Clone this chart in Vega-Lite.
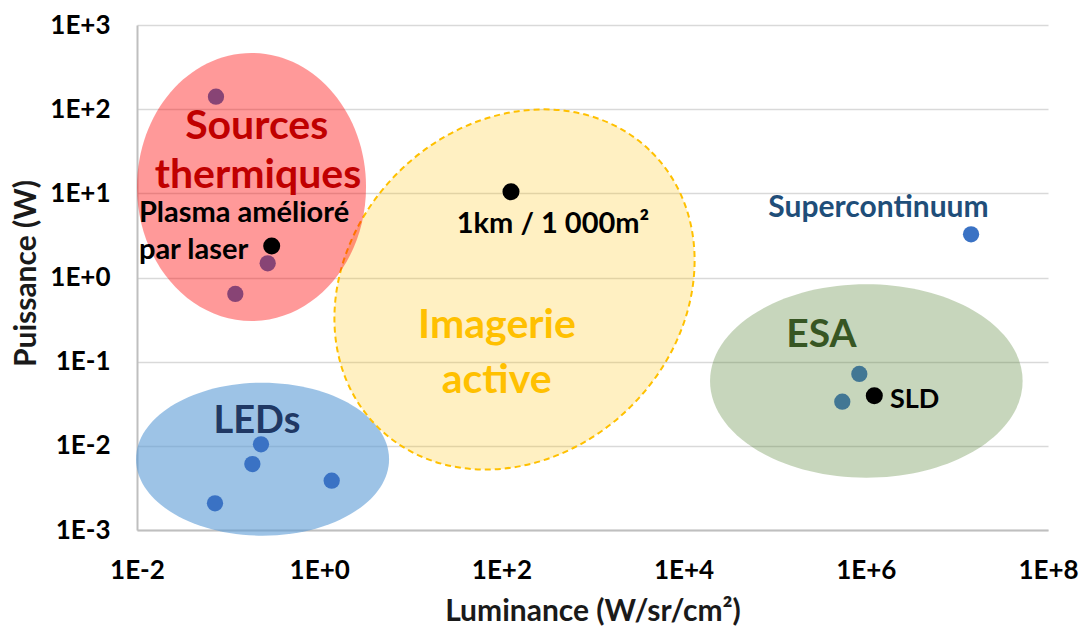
{
  "$schema": "https://vega.github.io/schema/vega-lite/v6.json",
  "width": 911,
  "height": 505,
  "autosize": "none",
  "padding": {"left": 137, "top": 25, "right": 35, "bottom": 103},
  "background": "white",
  "config": {
    "view": {"stroke": null},
    "font": "Lato"
  },
  "encoding": {
    "x": {
      "field": "x", "type": "quantitative",
      "scale": {"type": "log", "domain": [0.01, 100000000], "nice": false, "zero": false},
      "axis": {
        "values": [0.01, 1, 100, 10000, 1000000, 100000000],
        "labelExpr": "'1E' + (datum.value >= 1 ? '+' : '-') + format(abs(round(log(datum.value)/LN10)), 'd')",
        "grid": false, "ticks": false, "tickSize": 0,
        "labelPadding": 27, "labelFont": "Lato", "labelFontSize": 26, "labelFontWeight": "bold", "labelColor": "#000000",
        "labelFlush": false, "labelOverlap": false,
        "domainColor": "#BFBFBF", "domainWidth": 2,
        "title": "Luminance (W/sr/cm²)", "titleFont": "Lato", "titleFontSize": 30, "titleFontWeight": "bold", "titleColor": "#1a1a1a",
        "titleX": 455.5, "titleY": 90, "titleAlign": "center", "titleBaseline": "alphabetic", "titleAnchor": null
      }
    },
    "y": {
      "field": "y", "type": "quantitative",
      "scale": {"type": "log", "domain": [0.001, 1000], "nice": false, "zero": false},
      "axis": {
        "values": [0.001, 0.01, 0.1, 1, 10, 100, 1000],
        "labelExpr": "'1E' + (datum.value >= 1 ? '+' : '-') + format(abs(round(log(datum.value)/LN10)), 'd')",
        "grid": true, "gridColor": "#D9D9D9", "gridWidth": 1.5,
        "ticks": false, "tickSize": 0,
        "labelPadding": 27, "labelFont": "Lato", "labelFontSize": 26, "labelFontWeight": "bold", "labelColor": "#000000",
        "labelFlush": false, "labelOverlap": false,
        "domainColor": "#BFBFBF", "domainWidth": 2,
        "title": "Puissance (W)", "titleFont": "Lato", "titleFontSize": 30, "titleFontWeight": "bold", "titleColor": "#1a1a1a",
        "titleX": -102, "titleY": 248, "titleAngle": -90, "titleAlign": "center", "titleBaseline": "alphabetic", "titleAnchor": null
      }
    }
  },
  "layer": [
    {
      "data": {"values": [{"group": "LEDs", "x": 0.2389, "y": 0.00694}]},
      "mark": {"type": "point", "filled": true, "size": 64009, "fill": "#5B9BD5", "fillOpacity": 0.6, "strokeWidth": 0, "opacity": 1,
        "shape": "M 1 0 C 1 0.334 0.5523 0.6047 0 0.6047 C -0.5523 0.6047 -1 0.334 -1 0 C -1 -0.334 -0.5523 -0.6047 0 -0.6047 C 0.5523 -0.6047 1 -0.334 1 0 Z"}
    },
    {
      "data": {"values": [{"group": "Imagerie active", "x": 139.3, "y": 0.721}]},
      "mark": {"type": "point", "filled": false, "size": 150544, "fill": "#FFC000", "fillOpacity": 0.24, "stroke": "#FFC000", "strokeWidth": 2, "strokeDash": [6, 4], "strokeOpacity": 1, "opacity": 1, "angle": 315,
        "shape": "M 1 0 C 1 0.4697 0.5523 0.8505 0 0.8505 C -0.5523 0.8505 -1 0.4697 -1 0 C -1 -0.4697 -0.5523 -0.8505 0 -0.8505 C 0.5523 -0.8505 1 -0.4697 1 0 Z"}
    },
    {
      "data": {"values": [
        {"x": 0.0736, "y": 140.6},
        {"x": 0.272, "y": 1.475},
        {"x": 0.120, "y": 0.637},
        {"x": 0.2296, "y": 0.01042},
        {"x": 0.1846, "y": 0.00608},
        {"x": 0.0718, "y": 0.002075},
        {"x": 1.371, "y": 0.003855},
        {"x": 14300000, "y": 3.26},
        {"x": 849000, "y": 0.0714},
        {"x": 552000, "y": 0.0335}
      ]},
      "mark": {"type": "point", "shape": "circle", "filled": true, "size": 265, "color": "#3A72C4", "opacity": 1, "strokeWidth": 0}
    },
    {
      "data": {"values": [{"group": "Sources thermiques", "x": 0.1808, "y": 11.89}]},
      "mark": {"type": "point", "filled": true, "size": 52441, "fill": "#FF0000", "fillOpacity": 0.4, "strokeWidth": 0, "opacity": 1,
        "shape": "M 1 0 C 1 0.6463 0.5523 1.1703 0 1.1703 C -0.5523 1.1703 -1 0.6463 -1 0 C -1 -0.6463 -0.5523 -1.1703 0 -1.1703 C 0.5523 -1.1703 1 -0.6463 1 0 Z"}
    },
    {
      "data": {"values": [{"group": "ESA", "x": 1014000, "y": 0.0589}]},
      "mark": {"type": "point", "filled": true, "size": 97719, "fill": "#548235", "fillOpacity": 0.33, "strokeWidth": 0, "opacity": 1,
        "shape": "M 1 0 C 1 0.3417 0.5523 0.6187 0 0.6187 C -0.5523 0.6187 -1 0.3417 -1 0 C -1 -0.3417 -0.5523 -0.6187 0 -0.6187 C 0.5523 -0.6187 1 -0.3417 1 0 Z"}
    },
    {
      "data": {"values": [
        {"x": 127.4, "y": 10.46},
        {"x": 0.301, "y": 2.37},
        {"x": 1240000, "y": 0.0394}
      ]},
      "mark": {"type": "point", "shape": "circle", "filled": true, "size": 290, "color": "#000000", "opacity": 1, "strokeWidth": 0}
    },
    {
      "data": {"values": [
        {"label": "Sources", "x": 0.206, "y": 44.5},
        {"label": "thermiques", "x": 0.2128, "y": 11.57}
      ]},
      "mark": {"type": "text", "font": "Lato", "fontWeight": "bold", "fontSize": 41, "color": "#C00000", "align": "center", "baseline": "alphabetic"},
      "encoding": {"text": {"field": "label"}}
    },
    {
      "data": {"values": [
        {"label": "Plasma amélioré", "x": 0.0105, "y": 4.565},
        {"label": "par laser", "x": 0.0105, "y": 1.66}
      ]},
      "mark": {"type": "text", "font": "Lato", "fontWeight": "bold", "fontSize": 29, "color": "#000000", "align": "left", "baseline": "alphabetic"},
      "encoding": {"text": {"field": "label"}}
    },
    {
      "data": {"values": [{"label": "SLD", "x": 1845000, "y": 0.02838}]},
      "mark": {"type": "text", "font": "Lato", "fontWeight": "bold", "fontSize": 27, "color": "#000000", "align": "left", "baseline": "alphabetic"},
      "encoding": {"text": {"field": "label"}}
    },
    {
      "data": {"values": [{"label": "1km / 1 000m²", "x": 368.5, "y": 3.35}]},
      "mark": {"type": "text", "font": "Lato", "fontWeight": "bold", "fontSize": 29, "color": "#000000", "align": "center", "baseline": "alphabetic"},
      "encoding": {"text": {"field": "label"}}
    },
    {
      "data": {"values": [
        {"label": "Imagerie", "x": 89.5, "y": 0.191},
        {"label": "active", "x": 88.8, "y": 0.0428}
      ]},
      "mark": {"type": "text", "font": "Lato", "fontWeight": "bold", "fontSize": 41, "color": "#FFC000", "align": "center", "baseline": "alphabetic"},
      "encoding": {"text": {"field": "label"}}
    },
    {
      "data": {"values": [{"label": "Supercontinuum", "x": 1378000, "y": 5.19}]},
      "mark": {"type": "text", "font": "Lato", "fontWeight": "bold", "fontSize": 30, "color": "#1F4E79", "align": "center", "baseline": "alphabetic"},
      "encoding": {"text": {"field": "label"}}
    },
    {
      "data": {"values": [{"label": "ESA", "x": 326000, "y": 0.1507}]},
      "mark": {"type": "text", "font": "Lato", "fontWeight": "bold", "fontSize": 39, "color": "#375623", "align": "center", "baseline": "alphabetic"},
      "encoding": {"text": {"field": "label"}}
    },
    {
      "data": {"values": [{"label": "LEDs", "x": 0.2074, "y": 0.01432}]},
      "mark": {"type": "text", "font": "Lato", "fontWeight": "bold", "fontSize": 38, "color": "#203864", "align": "center", "baseline": "alphabetic"},
      "encoding": {"text": {"field": "label"}}
    }
  ]
}
